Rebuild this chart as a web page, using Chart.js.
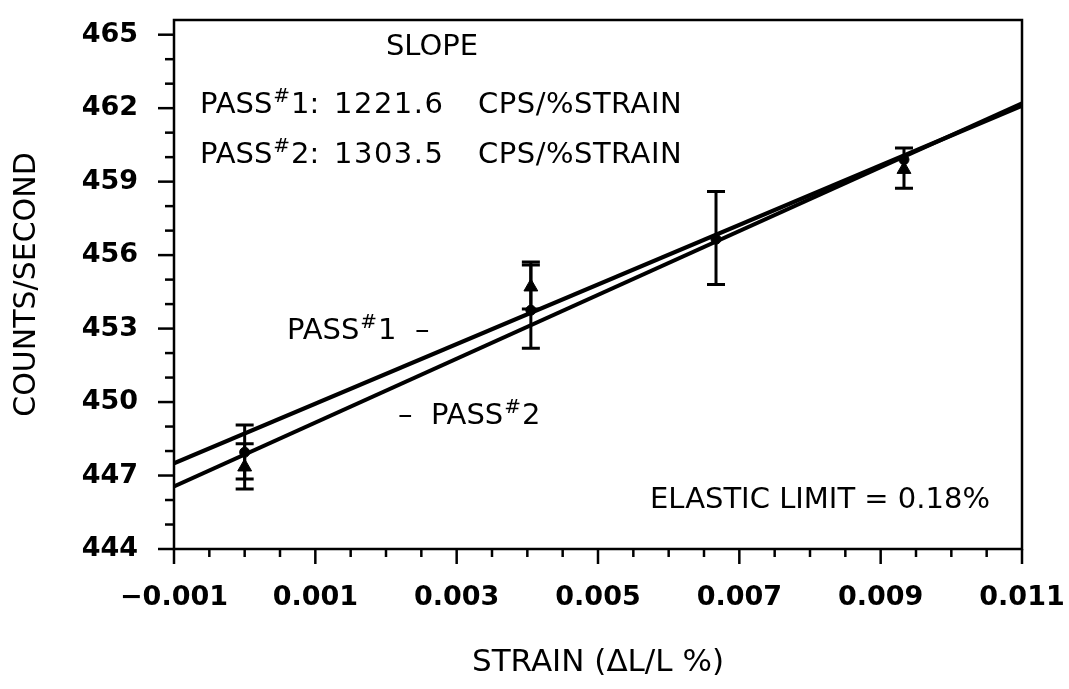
<!DOCTYPE html>
<html lang="en">
<head>
<meta charset="UTF-8">
<title>Counts/second vs strain</title>
<script src="https://cdn.jsdelivr.net/npm/chart.js"></script>
<style>
    html, body { margin: 0; padding: 0; background: #fff; }
    .grafico-container { width: 1069px; height: 689px; }
</style>
</head>
<body>
<div class="grafico-container">
    <canvas id="meuGrafico"></canvas>
</div>

<script>
    // valores
    const strainPass1 = [0.0000, 0.00405, 0.00667, 0.00933];
    const countsPass1 = [447.95, 453.75, 456.65, 459.9];
    const lowPass1 = [446.86, 452.2, 454.8, 459.9];
    const highPass1 = [449.06, 455.6, 458.6, 459.9];

    const strainPass2 = [0.0000, 0.00405, 0.00933];
    const countsPass2 = [447.35, 454.7, 459.5];
    const lowPass2 = [446.45, 453.8, 458.73];
    const highPass2 = [448.3, 455.72, 460.37];

    // retas ajustadas (extremos do eixo)
    const fitStrain = [-0.001, 0.011];
    const fitPass1 = [447.5, 462.1];
    const fitPass2 = [446.55, 462.2];

    const xMajorTicks = [-0.001, 0.001, 0.003, 0.005, 0.007, 0.009, 0.011];
    const yMajorTicks = [444, 447, 450, 453, 456, 459, 462, 465];

    const fonte = "'DejaVu Sans', sans-serif";

    function pontos(xs, ys) {
        return xs.map((x, i) => ({ x: x, y: ys[i] }));
    }

    // barras de erro, marcas dos eixos, moldura e textos
    const desenhoExtra = {
        id: "desenhoExtra",
        afterDatasetsDraw(chart) {
            const c = chart.ctx;
            const xs = chart.scales.x;
            const ys = chart.scales.y;
            const area = chart.chartArea;

            c.save();
            c.strokeStyle = "#000";
            c.lineCap = "butt";

            // barras de erro
            function barras(sx, lo, hi) {
                c.lineWidth = 3;
                sx.forEach((x, i) => {
                    if (lo[i] === hi[i]) return;
                    const px = xs.getPixelForValue(x);
                    const p1 = ys.getPixelForValue(lo[i]);
                    const p2 = ys.getPixelForValue(hi[i]);
                    c.beginPath();
                    c.moveTo(px, p1); c.lineTo(px, p2);
                    c.moveTo(px - 9, p1); c.lineTo(px + 9, p1);
                    c.moveTo(px - 9, p2); c.lineTo(px + 9, p2);
                    c.stroke();
                });
            }
            barras(strainPass1, lowPass1, highPass1);
            barras(strainPass2, lowPass2, highPass2);

            // moldura
            c.lineWidth = 2.5;
            c.strokeRect(area.left, area.top, area.right - area.left, area.bottom - area.top);

            // marcas do eixo x
            for (let v = -0.001; v <= 0.01101; v += 0.0005) {
                const px = xs.getPixelForValue(v);
                const maior = xMajorTicks.some(t => Math.abs(t - v) < 1e-7);
                c.beginPath();
                c.moveTo(px, area.bottom);
                c.lineTo(px, area.bottom + (maior ? 15 : 8));
                c.stroke();
            }
            // marcas do eixo y
            for (let v = 444; v <= 465; v += 1) {
                const py = ys.getPixelForValue(v);
                const maior = yMajorTicks.includes(v);
                c.beginPath();
                c.moveTo(area.left, py);
                c.lineTo(area.left - (maior ? 16 : 9), py);
                c.stroke();
            }

            // textos
            c.fillStyle = "#000";
            c.textBaseline = "middle";
            c.textAlign = "left";

            function texto(t, x, y, tam, espaco) {
                c.font = tam + "px " + fonte;
                c.letterSpacing = (espaco || 0) + "px";
                c.fillText(t, x, y);
                const w = c.measureText(t).width;
                c.letterSpacing = "0px";
                return x + w;
            }

            function textoPass(antes, depois, x, y, tam) {
                x = texto(antes, x, y, tam) + 1;
                x = texto("#", x, y - tam * 0.3, Math.round(tam * 0.7)) + 1;
                return texto(depois, x, y, tam);
            }

            c.textAlign = "center";
            texto("SLOPE", 432, 47, 29);
            c.textAlign = "left";

            textoPass("PASS", "1:", 200, 105, 29);
            texto("1221.6", 334, 105, 29, 1.5);
            texto("CPS/%STRAIN", 478, 105, 29, 0.5);

            textoPass("PASS", "2:", 200, 155, 29);
            texto("1303.5", 334, 155, 29, 1.5);
            texto("CPS/%STRAIN", 478, 155, 29, 0.5);

            textoPass("PASS", "1  \u2013", 287, 331, 29);
            textoPass("\u2013  PASS", "2", 398, 416, 29);

            c.textAlign = "right";
            texto("ELASTIC LIMIT = 0.18%", 990, 500, 29);

            c.restore();
        }
    };

    const ctx = document.getElementById("meuGrafico").getContext("2d");

    new Chart(ctx, {
        type: "line",
        data: {
            datasets: [
                {
                    label: "Pass 1 fit",
                    data: pontos(fitStrain, fitPass1),
                    borderColor: "#000",
                    borderWidth: 4,
                    pointRadius: 0,
                    fill: false
                },
                {
                    label: "Pass 2 fit",
                    data: pontos(fitStrain, fitPass2),
                    borderColor: "#000",
                    borderWidth: 4,
                    pointRadius: 0,
                    fill: false
                },
                {
                    label: "Pass 1",
                    data: pontos(strainPass1, countsPass1),
                    showLine: false,
                    pointStyle: "circle",
                    pointRadius: 5,
                    backgroundColor: "#000",
                    borderColor: "#000"
                },
                {
                    label: "Pass 2",
                    data: pontos(strainPass2, countsPass2),
                    showLine: false,
                    pointStyle: "triangle",
                    pointRadius: 8,
                    backgroundColor: "#000",
                    borderColor: "#000"
                }
            ]
        },
        options: {
            responsive: true,
            maintainAspectRatio: false,
            animation: false,
            layout: { padding: { top: 20, right: 47, left: 0, bottom: 0 } },
            plugins: {
                legend: { display: false },
                tooltip: { enabled: false }
            },
            scales: {
                x: {
                    type: "linear",
                    min: -0.001,
                    max: 0.011,
                    afterFit: (s) => { s.height = 140; s.paddingLeft = 0; s.paddingRight = 0; },
                    afterBuildTicks: (s) => { s.ticks = xMajorTicks.map(v => ({ value: v })); },
                    grid: { display: false, drawTicks: false },
                    border: { display: false },
                    ticks: {
                        padding: 33,
                        color: "#000",
                        font: { family: fonte, size: 27, weight: "bold" },
                        callback: (v) => (Math.round(v * 1000) / 1000).toFixed(3).replace("-", "\u2212")
                    },
                    title: {
                        display: true,
                        text: "STRAIN (\u0394L/L %)",
                        color: "#000",
                        font: { family: fonte, size: 31 },
                        padding: { top: 0, bottom: 7 }
                    }
                },
                y: {
                    type: "linear",
                    min: 444,
                    max: 465.6,
                    afterFit: (s) => { s.width = 174; s.paddingTop = 0; s.paddingBottom = 0; },
                    afterBuildTicks: (s) => { s.ticks = yMajorTicks.map(v => ({ value: v })); },
                    grid: { display: false, drawTicks: false },
                    border: { display: false },
                    ticks: {
                        padding: 36,
                        color: "#000",
                        font: { family: fonte, size: 27, weight: "bold" }
                    },
                    title: {
                        display: true,
                        text: "COUNTS/SECOND",
                        color: "#000",
                        font: { family: fonte, size: 30 },
                        padding: { top: 9, bottom: 0 }
                    }
                }
            }
        },
        plugins: [desenhoExtra]
    });
</script>
</body>
</html>
